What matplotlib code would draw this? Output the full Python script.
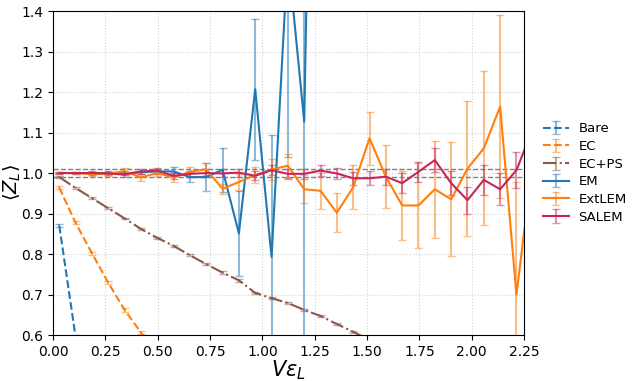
import matplotlib
matplotlib.use("Agg")
import matplotlib.pyplot as plt

# x positions (V*eps_L)
x = [0.03, 0.108, 0.186, 0.264, 0.342, 0.42, 0.498, 0.576, 0.654, 0.732,
     0.81, 0.888, 0.966, 1.044, 1.122, 1.2, 1.278, 1.356, 1.434, 1.512,
     1.59, 1.668, 1.746, 1.824, 1.902, 1.98, 2.058, 2.136, 2.214, 2.292]

bare = [0.87, 0.595, 0.32]
bare_err = [0.003, 0.005, 0.006]

ec = [0.964, 0.877, 0.802, 0.729, 0.662, 0.606, 0.55]
ec_err = [0.003, 0.004, 0.004, 0.004, 0.004, 0.004, 0.004]

ecps = [0.99, 0.963, 0.938, 0.913, 0.888, 0.862, 0.840, 0.820, 0.797, 0.775,
        0.754, 0.735, 0.704, 0.691, 0.679, 0.662, 0.647, 0.627, 0.608, 0.588, 0.57]
ecps_err = [0.002] * 5 + [0.003] * 16

em = [1.0, 1.0, 1.0, 1.0, 0.999, 1.002, 1.004, 1.004, 0.99, 0.99,
      1.008, 0.851, 1.207, 0.793, 1.54, 1.127, 3.3]
em_err = [0.001, 0.001, 0.002, 0.002, 0.003, 0.004, 0.006, 0.012, 0.012, 0.035,
          0.055, 0.105, 0.174, 0.30, 0.5, 0.6, 0.5]

extlem = [1.0, 1.0, 0.997, 0.998, 1.005, 0.989, 1.0, 0.989, 1.003, 1.009,
          0.961, 0.978, 0.995, 1.009, 1.018, 0.960, 0.956, 0.902, 0.965, 1.086,
          0.991, 0.920, 0.920, 0.960, 0.935, 1.011, 1.061, 1.164, 0.699, 1.03]
extlem_err = [0.002, 0.003, 0.004, 0.005, 0.008, 0.008, 0.008, 0.01, 0.012, 0.015,
              0.013, 0.02, 0.02, 0.025, 0.03, 0.035, 0.045, 0.048, 0.055, 0.065,
              0.077, 0.085, 0.105, 0.12, 0.141, 0.166, 0.19, 0.226, 0.28, 0.3]

salem = [1.0, 1.0, 1.0, 0.999, 0.996, 1.004, 1.006, 0.993, 0.998, 1.0,
         0.999, 1.001, 0.993, 1.007, 0.998, 0.998, 1.006, 0.999, 0.987, 0.987,
         0.991, 0.975, 1.003, 1.032, 0.975, 0.933, 0.983, 0.960, 1.007, 1.11]
salem_err = [0.002, 0.003, 0.004, 0.005, 0.006, 0.006, 0.007, 0.008, 0.008, 0.009,
             0.01, 0.01, 0.011, 0.012, 0.012, 0.013, 0.013, 0.014, 0.016, 0.017,
             0.02, 0.025, 0.025, 0.03, 0.03, 0.033, 0.037, 0.04, 0.045, 0.05]

fig = plt.figure(figsize=(6.34, 3.81), dpi=100)
ax = fig.add_axes([0.0836, 0.1207, 0.7429, 0.8503])

def plot_series(y, err, label, color, ls):
    n = len(y)
    line, caps, bars = ax.errorbar(x[:n], y, yerr=err, color=color, linestyle=ls,
                                   capsize=3, lw=1.5, elinewidth=1.5, label=label)
    for c in caps:
        c.set_alpha(0.5)
    for b in bars:
        b.set_alpha(0.5)

plot_series(bare, bare_err, 'Bare', 'C0', '--')
plot_series(ec, ec_err, 'EC', 'C1', '--')
plot_series(ecps, ecps_err, 'EC+PS', 'C5', '-.')
plot_series(em, em_err, 'EM', 'C0', '-')
plot_series(extlem, extlem_err, 'ExtLEM', 'C1', '-')
plot_series(salem, salem_err, 'SALEM', '#c7245e', '-')

ax.axhline(1.01, color='gray', ls='--', lw=1)
ax.axhline(0.99, color='gray', ls='--', lw=1)

ax.set_xlim(0, 2.25)
ax.set_ylim(0.6, 1.4)
ax.set_xticks([0, 0.25, 0.5, 0.75, 1.0, 1.25, 1.5, 1.75, 2.0, 2.25])
ax.grid(True, ls=':', color='lightgray')
ax.set_xlabel(r'$V\varepsilon_L$', fontsize=15, labelpad=0)
ax.set_ylabel(r'$\langle Z_L \rangle$', fontsize=14)
ax.yaxis.set_label_coords(-0.064, 0.47)
ax.legend(loc='center left', bbox_to_anchor=(1.015, 0.5), frameon=False,
          fontsize=9.5, labelspacing=0.35, handletextpad=0.7)

fig.savefig('out.png', dpi=100)
